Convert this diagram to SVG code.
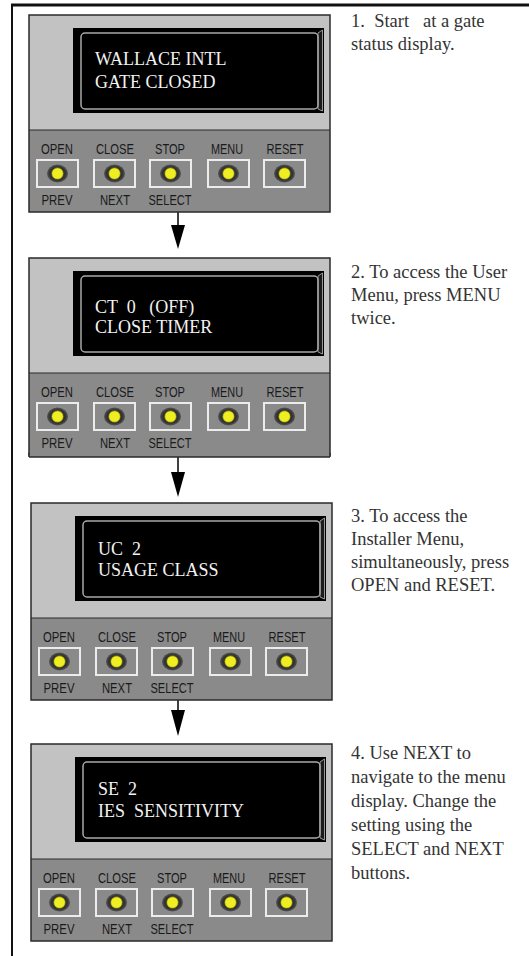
<svg xmlns="http://www.w3.org/2000/svg" xmlns:xlink="http://www.w3.org/1999/xlink" width="529" height="956" viewBox="0 0 529 956">
<style>
.frame{fill:none;stroke:#111}
.upper{fill:#c2c2c2}
.lower{fill:#8a8a8a}
.outline{fill:none;stroke:#2a2a2a;stroke-width:1.5}
.disp{fill:#000}
.bevel{fill:none;stroke:#a8a8a8;stroke-width:1.5}
.bface{fill:#1c1c1c;stroke:#9a9a9a;stroke-width:1}
.box{fill:none;stroke:#ececec;stroke-width:2}
.ring{fill:url(#ringGrad)}
.led{fill:#eeee22;stroke:#b8b800;stroke-width:0.6}
.lbl{font-family:"Liberation Sans",Arial,sans-serif;font-size:14px;fill:#1a1a1a;text-anchor:middle}
.lcd{font-family:"Liberation Serif","Times New Roman",serif;font-size:18px;fill:#f2f2f2;white-space:pre}
.note{font-family:"Liberation Serif","Times New Roman",serif;font-size:18.5px;fill:#333;white-space:pre}
.conn line{stroke:#000;stroke-width:1.5}
.conn polygon{fill:#000}
</style>
<defs>
<radialGradient id="ringGrad" cx="0.5" cy="0.5" r="0.5">
<stop offset="0" stop-color="#2a2a2a"/>
<stop offset="0.75" stop-color="#333"/>
<stop offset="1" stop-color="#555"/>
</radialGradient>
<g id="panelBase">
<rect class="upper" x="0" y="0" width="301" height="115"/>
<rect class="lower" x="0" y="115" width="301" height="82"/>
<line x1="0" y1="115" x2="301" y2="115" stroke="#2a2a2a" stroke-width="1.2"/>
<rect class="outline" x="0" y="0" width="301" height="197"/>
<rect class="disp" x="44" y="13" width="251" height="85"/>
<polygon class="bface" points="289,18 293.5,15 293.5,96 289,94"/>
<rect class="bevel" x="52" y="18" width="237" height="76" rx="4"/>
<rect class="box" x="8" y="145" width="41" height="27"/>
<rect class="box" x="65" y="145" width="41" height="27"/>
<rect class="box" x="121" y="145" width="41" height="27"/>
<rect class="box" x="179" y="145" width="41" height="27"/>
<rect class="box" x="235" y="145" width="41" height="27"/>
<ellipse class="ring" cx="28.5" cy="158.5" rx="10.5" ry="9"/>
<ellipse class="ring" cx="85.5" cy="158.5" rx="10.5" ry="9"/>
<ellipse class="ring" cx="141.5" cy="158.5" rx="10.5" ry="9"/>
<ellipse class="ring" cx="199.5" cy="158.5" rx="10.5" ry="9"/>
<ellipse class="ring" cx="255.5" cy="158.5" rx="10.5" ry="9"/>
<circle class="led" cx="28.5" cy="158.5" r="5.6"/>
<circle class="led" cx="85.5" cy="158.5" r="5.6"/>
<circle class="led" cx="141.5" cy="158.5" r="5.6"/>
<circle class="led" cx="199.5" cy="158.5" r="5.6"/>
<circle class="led" cx="255.5" cy="158.5" r="5.6"/>
<text class="lbl" x="28" y="138.5" textLength="32" lengthAdjust="spacingAndGlyphs">OPEN</text>
<text class="lbl" x="86" y="138.5" textLength="38" lengthAdjust="spacingAndGlyphs">CLOSE</text>
<text class="lbl" x="141" y="138.5" textLength="30" lengthAdjust="spacingAndGlyphs">STOP</text>
<text class="lbl" x="198" y="138.5" textLength="32" lengthAdjust="spacingAndGlyphs">MENU</text>
<text class="lbl" x="256" y="138.5" textLength="37" lengthAdjust="spacingAndGlyphs">RESET</text>
<text class="lbl" x="28" y="190" textLength="31" lengthAdjust="spacingAndGlyphs">PREV</text>
<text class="lbl" x="86" y="190" textLength="30" lengthAdjust="spacingAndGlyphs">NEXT</text>
<text class="lbl" x="141" y="190" textLength="43" lengthAdjust="spacingAndGlyphs">SELECT</text>
</g>
</defs>

<g id="frame">
<line class="frame" stroke-width="3" x1="11" y1="5" x2="529" y2="5"/>
<line class="frame" stroke-width="2" x1="12" y1="4" x2="12" y2="956"/>
</g>

<g id="connectors" class="conn">
<line x1="178" y1="212" x2="178" y2="226"/>
<polygon points="171,225 185,225 178,249"/>
<line x1="178" y1="457" x2="178" y2="473"/>
<polygon points="171,472 185,472 178,497"/>
<line x1="178" y1="692" x2="178" y2="711"/>
<polygon points="171,710 185,710 178,736"/>
</g>

<g id="panel1" transform="translate(29,15)">
<use xlink:href="#panelBase"/>
<text class="lcd" x="66" y="50">WALLACE INTL</text>
<text class="lcd" x="66" y="73">GATE CLOSED</text>
</g>

<g id="panel2" transform="translate(29,258)">
<use xlink:href="#panelBase"/>
<rect class="lower" x="0" y="196" width="301" height="3"/>
<line x1="0" y1="199" x2="301" y2="199" stroke="#2a2a2a" stroke-width="1.5"/>
<line x1="0" y1="195" x2="0" y2="199" stroke="#2a2a2a" stroke-width="1.5"/>
<line x1="301" y1="195" x2="301" y2="199" stroke="#2a2a2a" stroke-width="1.5"/>
<text class="lcd" x="66" y="55">CT  0   (OFF)</text>
<text class="lcd" x="66" y="75">CLOSE TIMER</text>
</g>

<g id="panel3" transform="translate(31,503)">
<use xlink:href="#panelBase"/>
<text class="lcd" x="67" y="52">UC  2</text>
<text class="lcd" x="67" y="73">USAGE CLASS</text>
</g>

<g id="panel4" transform="translate(31,744)">
<use xlink:href="#panelBase"/>
<text class="lcd" x="67" y="51">SE  2</text>
<text class="lcd" x="67" y="73">IES  SENSITIVITY</text>
</g>

<g id="step1">
<text class="note" x="351" y="27">1.  Start   at a gate</text>
<text class="note" x="351" y="50">status display.</text>
</g>
<g id="step2">
<text class="note" x="351" y="278">2. To access the User</text>
<text class="note" x="351" y="301">Menu, press MENU</text>
<text class="note" x="351" y="324">twice.</text>
</g>
<g id="step3">
<text class="note" x="351" y="522">3. To access the</text>
<text class="note" x="351" y="545">Installer Menu,</text>
<text class="note" x="351" y="568">simultaneously, press</text>
<text class="note" x="351" y="591">OPEN and RESET.</text>
</g>
<g id="step4">
<text class="note" x="351" y="759">4. Use NEXT to</text>
<text class="note" x="351" y="783">navigate to the menu</text>
<text class="note" x="351" y="807">display. Change the</text>
<text class="note" x="351" y="831">setting using the</text>
<text class="note" x="351" y="855">SELECT and NEXT</text>
<text class="note" x="351" y="879">buttons.</text>
</g>
</svg>
